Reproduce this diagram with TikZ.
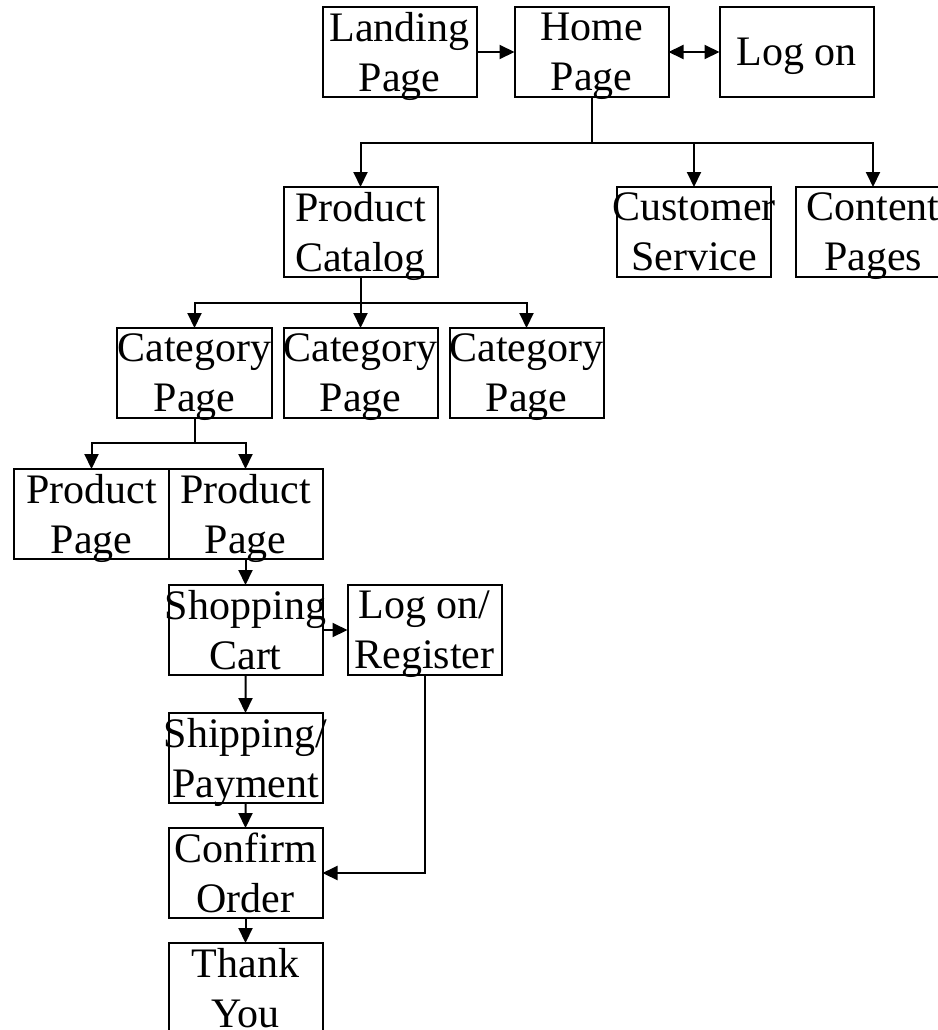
\documentclass[tikz,border=0pt]{standalone}
\usepackage{fontspec}
\setmainfont{Liberation Serif}
\usetikzlibrary{shapes,arrows.meta,positioning,calc}

\begin{document}
\begin{tikzpicture}[x=1bp, y=-1bp, line width=2bp,
    >={Triangle[length=15bp, width=14bp]},
    pagebox/.style={draw, rectangle, minimum width=154bp, minimum height=90bp,
        inner xsep=-6bp, inner ysep=0pt, outer sep=0pt, align=center, text depth=0pt,
        font=\fontsize{42bp}{50bp}\selectfont}]
    \useasboundingbox (0,0) rectangle (938,1030);

    \node (landing) [pagebox] at (399.5,52) {Landing\\Page};
    \node (home) [pagebox, right=38bp of landing] {Home\\Page};
    \node (logon) [pagebox, right=51bp of home] {Log on};

    \node (catalog) [pagebox] at (360.5,232) {Product\\Catalog};
    \node (service) [pagebox] at (694,232) {Customer\\Service};
    \node (content) [pagebox, right=25bp of service] {Content\\Pages};

    \node (cat2) [pagebox, below=51bp of catalog] {Category\\Page};
    \node (cat1) [pagebox, left=12bp of cat2] {Category\\Page};
    \node (cat3) [pagebox, right=12bp of cat2] {Category\\Page};

    \node (prod1) [pagebox] at (91.5,514) {Product\\Page};
    \node (prod2) [pagebox, right=0bp of prod1] {Product\\Page};

    \node (cart) [pagebox, below=26bp of prod2] {Shopping\\Cart};
    \node (register) [pagebox, right=25bp of cart] {Log on/\\Register};
    \node (shipping) [pagebox, below=38bp of cart] {Shipping/\\Payment};
    \node (confirm) [pagebox, below=25bp of shipping] {Confirm\\Order};
    \node (thanks) [pagebox, below=25bp of confirm] {Thank\\You};

    \draw [->] (landing) -- (home);
    \draw [<->] (home) -- (logon);

    \draw (home.south) -- ++(0,46) coordinate (homesplit);
    \draw [->] (homesplit) -| (catalog.north);
    \draw [->] (homesplit) -| (service.north);
    \draw [->] (homesplit) -| (content.north);

    \draw (catalog.south) -- ++(0,26) coordinate (catsplit);
    \draw [->] (catsplit) -| (cat1.north);
    \draw [->] (catsplit) -- (cat2.north);
    \draw [->] (catsplit) -| (cat3.north);

    \draw (cat1.south) -- ++(0,25) coordinate (prodsplit);
    \draw [->] (prodsplit) -| (prod1.north);
    \draw [->] (prodsplit) -| (prod2.north);

    \draw [->] (prod2) -- (cart);
    \draw [->] (cart) -- (register);
    \draw [->] (cart) -- (shipping);
    \draw [->] (shipping) -- (confirm);
    \draw [->] (confirm) -- (thanks);
    \draw [->] (register.south) |- (confirm.east);

\end{tikzpicture}
\end{document}
